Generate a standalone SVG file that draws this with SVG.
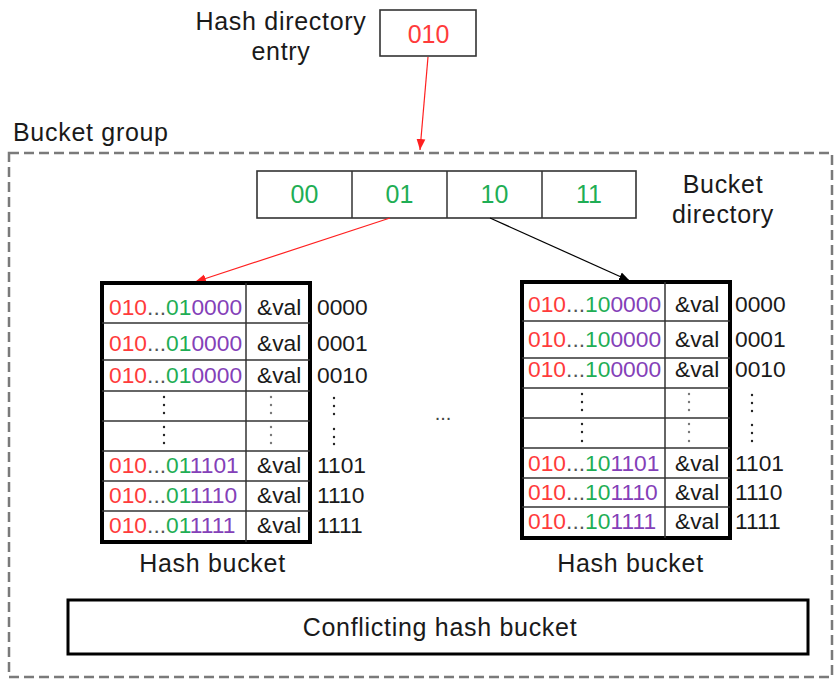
<svg xmlns="http://www.w3.org/2000/svg" width="836" height="679" viewBox="0 0 836 679">
<style>
text{font-family:"Liberation Sans",Arial,sans-serif;fill:#1a1a1a}
.lbl{font-size:25px;letter-spacing:0.7px}
.cell{font-size:22.8px}
.r{fill:#ff3b3b}.g{fill:#1fae55}.p{fill:#8440b8}.d{fill:#555}
.box{fill:#fff;stroke:#333;stroke-width:1.6}
.bk{fill:#fff;stroke:#000;stroke-width:4}
.ln{stroke:#333;stroke-width:1.5}
.dot{fill:#222}
.dot2{fill:#777}
</style>
<defs>
<marker id="ar" viewBox="0 0 10 10" refX="10" refY="5" markerWidth="11" markerHeight="11" markerUnits="userSpaceOnUse" orient="auto"><path d="M0,1 L10,5 L0,9 z" fill="#ff2020"/></marker>
<marker id="ab" viewBox="0 0 10 10" refX="10" refY="5" markerWidth="11" markerHeight="11" markerUnits="userSpaceOnUse" orient="auto"><path d="M0,1 L10,5 L0,9 z" fill="#000"/></marker>
</defs>

<g id="bucket-group">
<rect x="9" y="153" width="823" height="524" fill="none" stroke="#7a7a7a" stroke-width="2.5" stroke-dasharray="10 5"/>
<text class="lbl" x="13" y="141">Bucket group</text>
</g>

<g id="hash-dir-entry">
<text class="lbl" x="281" y="30" text-anchor="middle">Hash directory</text>
<text class="lbl" x="281" y="60" text-anchor="middle">entry</text>
<rect class="box" x="380" y="10" width="96" height="46"/>
<text x="428.5" y="43" text-anchor="middle" font-size="25" class="r">010</text>
</g>

<g id="bucket-directory">
<rect class="box" x="257" y="171" width="379" height="47"/>
<line class="ln" x1="352" y1="171" x2="352" y2="218"/>
<line class="ln" x1="447" y1="171" x2="447" y2="218"/>
<line class="ln" x1="542" y1="171" x2="542" y2="218"/>
<text x="304.5" y="203" text-anchor="middle" font-size="25" class="g">00</text>
<text x="399.5" y="203" text-anchor="middle" font-size="25" class="g">01</text>
<text x="494.5" y="203" text-anchor="middle" font-size="25" class="g">10</text>
<text x="589" y="203" text-anchor="middle" font-size="25" class="g">11</text>
<text class="lbl" x="723" y="193" text-anchor="middle">Bucket</text>
<text class="lbl" x="723" y="223" text-anchor="middle">directory</text>
</g>

<g id="connectors" fill="none">
<line x1="428" y1="57" x2="420" y2="150" stroke="#ff2020" stroke-width="1.2" marker-end="url(#ar)"/>
<line x1="390" y1="218" x2="195" y2="282" stroke="#ff2020" stroke-width="1.2" marker-end="url(#ar)"/>
<line x1="490" y1="218" x2="630" y2="281" stroke="#000" stroke-width="1.2" marker-end="url(#ab)"/>
</g>

<g id="hash-bucket-left">
<rect class="bk" x="102" y="283" width="208" height="259"/>
<line class="ln" x1="246" y1="283" x2="246" y2="542"/>
<line class="ln" x1="102" y1="323" x2="310" y2="323"/>
<line class="ln" x1="102" y1="360" x2="310" y2="360"/>
<line class="ln" x1="102" y1="391" x2="310" y2="391"/>
<line class="ln" x1="102" y1="421" x2="310" y2="421"/>
<line class="ln" x1="102" y1="451" x2="310" y2="451"/>
<line class="ln" x1="102" y1="481" x2="310" y2="481"/>
<line class="ln" x1="102" y1="511" x2="310" y2="511"/>
<text class="cell" x="109" y="315"><tspan class="r">010</tspan><tspan class="d">...</tspan><tspan class="g">01</tspan><tspan class="p">0000</tspan></text>
<text class="cell" x="109" y="351"><tspan class="r">010</tspan><tspan class="d">...</tspan><tspan class="g">01</tspan><tspan class="p">0000</tspan></text>
<text class="cell" x="109" y="383"><tspan class="r">010</tspan><tspan class="d">...</tspan><tspan class="g">01</tspan><tspan class="p">0000</tspan></text>
<text class="cell" x="109" y="473"><tspan class="r">010</tspan><tspan class="d">...</tspan><tspan class="g">01</tspan><tspan class="p">1101</tspan></text>
<text class="cell" x="109" y="503"><tspan class="r">010</tspan><tspan class="d">...</tspan><tspan class="g">01</tspan><tspan class="p">1110</tspan></text>
<text class="cell" x="109" y="533"><tspan class="r">010</tspan><tspan class="d">...</tspan><tspan class="g">01</tspan><tspan class="p">1111</tspan></text>
<text class="cell" x="257" y="315">&amp;val</text>
<text class="cell" x="257" y="351">&amp;val</text>
<text class="cell" x="257" y="383">&amp;val</text>
<text class="cell" x="257" y="473">&amp;val</text>
<text class="cell" x="257" y="503">&amp;val</text>
<text class="cell" x="257" y="533">&amp;val</text>
<text class="cell" x="317" y="315">0000</text>
<text class="cell" x="317" y="351">0001</text>
<text class="cell" x="317" y="383">0010</text>
<text class="cell" x="317" y="473">1101</text>
<text class="cell" x="317" y="503">1110</text>
<text class="cell" x="317" y="533">1111</text>
<g class="dot">
<circle cx="164" cy="397" r="1.2"/><circle cx="164" cy="405" r="1.2"/><circle cx="164" cy="413" r="1.2"/>
<circle cx="164" cy="427" r="1.2"/><circle cx="164" cy="435" r="1.2"/><circle cx="164" cy="443" r="1.2"/>
<circle cx="334" cy="398" r="1.2"/><circle cx="334" cy="406" r="1.2"/><circle cx="334" cy="414" r="1.2"/>
<circle cx="334" cy="429" r="1.2"/><circle cx="334" cy="437" r="1.2"/><circle cx="334" cy="444" r="1.2"/>
</g>
<g class="dot2">
<circle cx="271" cy="397" r="1.2"/><circle cx="271" cy="405" r="1.2"/><circle cx="271" cy="413" r="1.2"/>
<circle cx="271" cy="427" r="1.2"/><circle cx="271" cy="435" r="1.2"/><circle cx="271" cy="443" r="1.2"/>
</g>
<text class="lbl" x="212.5" y="572" text-anchor="middle">Hash bucket</text>
</g>

<text x="443" y="420" text-anchor="middle" font-size="20" style="fill:#444">...</text>

<g id="hash-bucket-right">
<rect class="bk" x="522" y="282" width="208" height="256"/>
<line class="ln" x1="665" y1="282" x2="665" y2="538"/>
<line class="ln" x1="522" y1="321" x2="730" y2="321"/>
<line class="ln" x1="522" y1="358" x2="730" y2="358"/>
<line class="ln" x1="522" y1="388" x2="730" y2="388"/>
<line class="ln" x1="522" y1="418" x2="730" y2="418"/>
<line class="ln" x1="522" y1="448" x2="730" y2="448"/>
<line class="ln" x1="522" y1="478" x2="730" y2="478"/>
<line class="ln" x1="522" y1="507" x2="730" y2="507"/>
<text class="cell" x="528" y="312"><tspan class="r">010</tspan><tspan class="d">...</tspan><tspan class="g">10</tspan><tspan class="p">0000</tspan></text>
<text class="cell" x="528" y="347"><tspan class="r">010</tspan><tspan class="d">...</tspan><tspan class="g">10</tspan><tspan class="p">0000</tspan></text>
<text class="cell" x="528" y="377"><tspan class="r">010</tspan><tspan class="d">...</tspan><tspan class="g">10</tspan><tspan class="p">0000</tspan></text>
<text class="cell" x="528" y="471"><tspan class="r">010</tspan><tspan class="d">...</tspan><tspan class="g">10</tspan><tspan class="p">1101</tspan></text>
<text class="cell" x="528" y="500"><tspan class="r">010</tspan><tspan class="d">...</tspan><tspan class="g">10</tspan><tspan class="p">1110</tspan></text>
<text class="cell" x="528" y="529"><tspan class="r">010</tspan><tspan class="d">...</tspan><tspan class="g">10</tspan><tspan class="p">1111</tspan></text>
<text class="cell" x="675" y="312">&amp;val</text>
<text class="cell" x="675" y="347">&amp;val</text>
<text class="cell" x="675" y="377">&amp;val</text>
<text class="cell" x="675" y="471">&amp;val</text>
<text class="cell" x="675" y="500">&amp;val</text>
<text class="cell" x="675" y="529">&amp;val</text>
<text class="cell" x="735" y="312">0000</text>
<text class="cell" x="735" y="347">0001</text>
<text class="cell" x="735" y="377">0010</text>
<text class="cell" x="735" y="471">1101</text>
<text class="cell" x="735" y="500">1110</text>
<text class="cell" x="735" y="529">1111</text>
<g class="dot">
<circle cx="582" cy="394" r="1.2"/><circle cx="582" cy="402" r="1.2"/><circle cx="582" cy="410" r="1.2"/>
<circle cx="582" cy="424" r="1.2"/><circle cx="582" cy="432" r="1.2"/><circle cx="582" cy="441" r="1.2"/>
<circle cx="752" cy="395" r="1.2"/><circle cx="752" cy="403" r="1.2"/><circle cx="752" cy="411" r="1.2"/>
<circle cx="752" cy="425" r="1.2"/><circle cx="752" cy="433" r="1.2"/><circle cx="752" cy="441" r="1.2"/>
</g>
<g class="dot2">
<circle cx="689" cy="394" r="1.2"/><circle cx="689" cy="402" r="1.2"/><circle cx="689" cy="410" r="1.2"/>
<circle cx="689" cy="424" r="1.2"/><circle cx="689" cy="432" r="1.2"/><circle cx="689" cy="441" r="1.2"/>
</g>
<text class="lbl" x="630.5" y="572" text-anchor="middle">Hash bucket</text>
</g>

<g id="conflicting-bucket">
<rect x="68" y="600" width="740" height="54" fill="#fff" stroke="#000" stroke-width="3"/>
<text class="lbl" x="440" y="636" text-anchor="middle">Conflicting hash bucket</text>
</g>
</svg>
